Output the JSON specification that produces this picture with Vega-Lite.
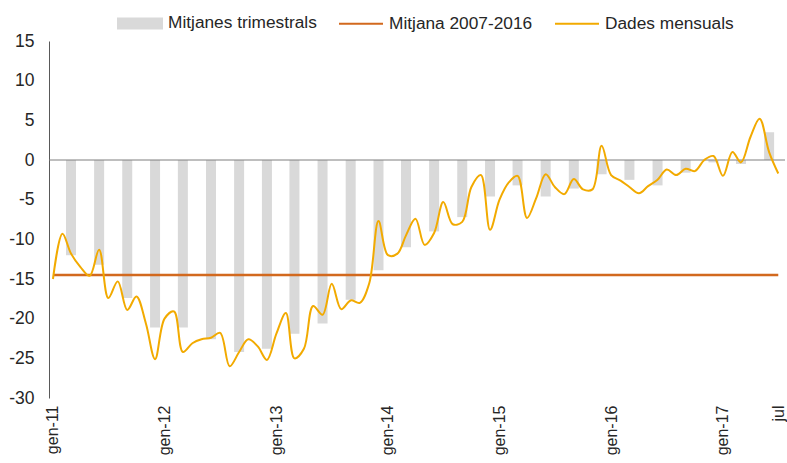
{
  "$schema": "https://vega.github.io/schema/vega-lite/v6.json",
  "width": 736,
  "height": 357,
  "autosize": "none",
  "padding": {"left": 49, "top": 41, "right": 2, "bottom": 65},
  "background": "white",
  "config": {
    "view": {"stroke": null},
    "font": "Liberation Sans",
    "axis": {"labelFont": "Liberation Sans", "labelColor": "#262626", "labelFontSize": 17.5, "grid": false, "ticks": false, "title": null},
    "legend": {"labelFont": "Liberation Sans", "labelFontSize": 17.3, "labelColor": "#262626"}
  },
  "datasets": {
    "mensual": [
      {"mes": "2011-01-01", "valor": -15.0, "mitjana": -14.5},
      {"mes": "2011-02-01", "valor": -9.3, "mitjana": -14.5},
      {"mes": "2011-03-01", "valor": -11.8, "mitjana": -14.5},
      {"mes": "2011-04-01", "valor": -13.5, "mitjana": -14.5},
      {"mes": "2011-05-01", "valor": -14.6, "mitjana": -14.5},
      {"mes": "2011-06-01", "valor": -11.3, "mitjana": -14.5},
      {"mes": "2011-07-01", "valor": -17.4, "mitjana": -14.5},
      {"mes": "2011-08-01", "valor": -15.3, "mitjana": -14.5},
      {"mes": "2011-09-01", "valor": -18.9, "mitjana": -14.5},
      {"mes": "2011-10-01", "valor": -17.2, "mitjana": -14.5},
      {"mes": "2011-11-01", "valor": -20.6, "mitjana": -14.5},
      {"mes": "2011-12-01", "valor": -25.1, "mitjana": -14.5},
      {"mes": "2012-01-01", "valor": -20.0, "mitjana": -14.5},
      {"mes": "2012-02-01", "valor": -19.1, "mitjana": -14.5},
      {"mes": "2012-03-01", "valor": -24.2, "mitjana": -14.5},
      {"mes": "2012-04-01", "valor": -23.1, "mitjana": -14.5},
      {"mes": "2012-05-01", "valor": -22.6, "mitjana": -14.5},
      {"mes": "2012-06-01", "valor": -22.4, "mitjana": -14.5},
      {"mes": "2012-07-01", "valor": -21.8, "mitjana": -14.5},
      {"mes": "2012-08-01", "valor": -26.0, "mitjana": -14.5},
      {"mes": "2012-09-01", "valor": -24.2, "mitjana": -14.5},
      {"mes": "2012-10-01", "valor": -22.6, "mitjana": -14.5},
      {"mes": "2012-11-01", "valor": -23.5, "mitjana": -14.5},
      {"mes": "2012-12-01", "valor": -25.2, "mitjana": -14.5},
      {"mes": "2013-01-01", "valor": -21.9, "mitjana": -14.5},
      {"mes": "2013-02-01", "valor": -19.3, "mitjana": -14.5},
      {"mes": "2013-03-01", "valor": -25.0, "mitjana": -14.5},
      {"mes": "2013-04-01", "valor": -23.8, "mitjana": -14.5},
      {"mes": "2013-05-01", "valor": -18.4, "mitjana": -14.5},
      {"mes": "2013-06-01", "valor": -19.5, "mitjana": -14.5},
      {"mes": "2013-07-01", "valor": -15.6, "mitjana": -14.5},
      {"mes": "2013-08-01", "valor": -18.8, "mitjana": -14.5},
      {"mes": "2013-09-01", "valor": -17.7, "mitjana": -14.5},
      {"mes": "2013-10-01", "valor": -18.0, "mitjana": -14.5},
      {"mes": "2013-11-01", "valor": -15.5, "mitjana": -14.5},
      {"mes": "2013-12-01", "valor": -7.7, "mitjana": -14.5},
      {"mes": "2014-01-01", "valor": -12.0, "mitjana": -14.5},
      {"mes": "2014-02-01", "valor": -11.8, "mitjana": -14.5},
      {"mes": "2014-03-01", "valor": -9.5, "mitjana": -14.5},
      {"mes": "2014-04-01", "valor": -7.4, "mitjana": -14.5},
      {"mes": "2014-05-01", "valor": -10.7, "mitjana": -14.5},
      {"mes": "2014-06-01", "valor": -9.2, "mitjana": -14.5},
      {"mes": "2014-07-01", "valor": -5.3, "mitjana": -14.5},
      {"mes": "2014-08-01", "valor": -8.1, "mitjana": -14.5},
      {"mes": "2014-09-01", "valor": -7.8, "mitjana": -14.5},
      {"mes": "2014-10-01", "valor": -3.4, "mitjana": -14.5},
      {"mes": "2014-11-01", "valor": -1.9, "mitjana": -14.5},
      {"mes": "2014-12-01", "valor": -8.8, "mitjana": -14.5},
      {"mes": "2015-01-01", "valor": -5.0, "mitjana": -14.5},
      {"mes": "2015-02-01", "valor": -2.8, "mitjana": -14.5},
      {"mes": "2015-03-01", "valor": -2.0, "mitjana": -14.5},
      {"mes": "2015-04-01", "valor": -7.3, "mitjana": -14.5},
      {"mes": "2015-05-01", "valor": -4.8, "mitjana": -14.5},
      {"mes": "2015-06-01", "valor": -1.8, "mitjana": -14.5},
      {"mes": "2015-07-01", "valor": -3.4, "mitjana": -14.5},
      {"mes": "2015-08-01", "valor": -4.3, "mitjana": -14.5},
      {"mes": "2015-09-01", "valor": -2.4, "mitjana": -14.5},
      {"mes": "2015-10-01", "valor": -3.7, "mitjana": -14.5},
      {"mes": "2015-11-01", "valor": -3.7, "mitjana": -14.5},
      {"mes": "2015-12-01", "valor": 1.8, "mitjana": -14.5},
      {"mes": "2016-01-01", "valor": -1.9, "mitjana": -14.5},
      {"mes": "2016-02-01", "valor": -2.6, "mitjana": -14.5},
      {"mes": "2016-03-01", "valor": -3.4, "mitjana": -14.5},
      {"mes": "2016-04-01", "valor": -4.2, "mitjana": -14.5},
      {"mes": "2016-05-01", "valor": -3.3, "mitjana": -14.5},
      {"mes": "2016-06-01", "valor": -2.5, "mitjana": -14.5},
      {"mes": "2016-07-01", "valor": -1.2, "mitjana": -14.5},
      {"mes": "2016-08-01", "valor": -1.9, "mitjana": -14.5},
      {"mes": "2016-09-01", "valor": -1.1, "mitjana": -14.5},
      {"mes": "2016-10-01", "valor": -1.4, "mitjana": -14.5},
      {"mes": "2016-11-01", "valor": 0.0, "mitjana": -14.5},
      {"mes": "2016-12-01", "valor": 0.5, "mitjana": -14.5},
      {"mes": "2017-01-01", "valor": -2.0, "mitjana": -14.5},
      {"mes": "2017-02-01", "valor": 1.0, "mitjana": -14.5},
      {"mes": "2017-03-01", "valor": -0.3, "mitjana": -14.5},
      {"mes": "2017-04-01", "valor": 2.9, "mitjana": -14.5},
      {"mes": "2017-05-01", "valor": 5.2, "mitjana": -14.5},
      {"mes": "2017-06-01", "valor": 1.0, "mitjana": -14.5},
      {"mes": "2017-07-01", "valor": -1.7, "mitjana": -14.5}
    ],
    "trimestral": [
      {"mes": "2011-03-01", "valor": -12.0},
      {"mes": "2011-06-01", "valor": -13.2},
      {"mes": "2011-09-01", "valor": -17.4},
      {"mes": "2011-12-01", "valor": -21.1},
      {"mes": "2012-03-01", "valor": -21.1},
      {"mes": "2012-06-01", "valor": -22.6},
      {"mes": "2012-09-01", "valor": -24.2},
      {"mes": "2012-12-01", "valor": -23.8},
      {"mes": "2013-03-01", "valor": -21.9},
      {"mes": "2013-06-01", "valor": -20.6},
      {"mes": "2013-09-01", "valor": -17.6},
      {"mes": "2013-12-01", "valor": -13.9},
      {"mes": "2014-03-01", "valor": -11.0},
      {"mes": "2014-06-01", "valor": -9.0},
      {"mes": "2014-09-01", "valor": -7.2},
      {"mes": "2014-12-01", "valor": -4.6},
      {"mes": "2015-03-01", "valor": -3.2},
      {"mes": "2015-06-01", "valor": -4.6},
      {"mes": "2015-09-01", "valor": -3.6},
      {"mes": "2015-12-01", "valor": -1.8},
      {"mes": "2016-03-01", "valor": -2.5},
      {"mes": "2016-06-01", "valor": -3.2},
      {"mes": "2016-09-01", "valor": -1.6},
      {"mes": "2016-12-01", "valor": -0.3},
      {"mes": "2017-03-01", "valor": -0.5},
      {"mes": "2017-06-01", "valor": 3.5}
    ]
  },
  "encoding": {
    "x": {
      "field": "mes",
      "type": "temporal",
      "scale": {
        "type": "utc",
        "padding": 0,
        "domain": [
          {"year": 2010, "month": 12, "date": 19, "utc": true},
          {"year": 2017, "month": 7, "date": 23, "utc": true}
        ]
      },
      "axis": {
        "domain": false,
        "values": [
          {"year": 2011, "month": 1, "date": 1, "utc": true},
          {"year": 2012, "month": 1, "date": 1, "utc": true},
          {"year": 2013, "month": 1, "date": 1, "utc": true},
          {"year": 2014, "month": 1, "date": 1, "utc": true},
          {"year": 2015, "month": 1, "date": 1, "utc": true},
          {"year": 2016, "month": 1, "date": 1, "utc": true},
          {"year": 2017, "month": 1, "date": 1, "utc": true},
          {"year": 2017, "month": 7, "date": 1, "utc": true}
        ],
        "labelExpr": "utcFormat(datum.value, '%m') == '07' ? 'jul' : 'gen-' + utcFormat(datum.value, '%y')",
        "labelAngle": -90,
        "labelAlign": "right",
        "labelBaseline": "middle",
        "labelPadding": 7,
        "labelFontSize": 16,
        "labelOverlap": false,
        "labelBound": false,
        "labelFlush": false
      }
    },
    "y": {
      "field": "valor",
      "type": "quantitative",
      "scale": {"domain": [-30, 15], "nice": false, "zero": false},
      "axis": {
        "values": [-30, -25, -20, -15, -10, -5, 0, 5, 10, 15],
        "labelExpr": "'' + datum.value",
        "domain": true,
        "domainColor": "#595959",
        "domainWidth": 1,
        "labelPadding": 15
      }
    },
    "color": {
      "scale": {
        "domain": ["Mitjanes trimestrals", "Mitjana 2007-2016", "Dades mensuals"],
        "range": ["#D9D9D9", "#D2691E", "#F2AA00"]
      },
      "legend": {
        "title": null,
        "orient": "none",
        "legendX": 68,
        "legendY": -41,
        "direction": "horizontal",
        "columnPadding": 18,
        "labelOffset": 5,
        "symbolSize": 1936,
        "symbolStrokeWidth": 2,
        "encode": {
          "symbols": {
            "update": {
              "shape": {"signal": "datum.value === 'Mitjanes trimestrals' ? 'M-1,-0.23H1V0.23H-1Z' : 'M-1,0H1'"},
              "fill": {"signal": "datum.value === 'Mitjanes trimestrals' ? '#D9D9D9' : 'transparent'"},
              "stroke": {"signal": "datum.value === 'Mitjanes trimestrals' ? 'transparent' : (datum.value === 'Mitjana 2007-2016' ? '#D2691E' : '#F2AA00')"},
              "strokeWidth": {"value": 2},
              "opacity": {"value": 1}
            }
          }
        }
      }
    }
  },
  "layer": [
    {
      "data": {"name": "trimestral"},
      "mark": {"type": "bar", "width": 10},
      "encoding": {
        "color": {"datum": "Mitjanes trimestrals"},
        "y2": {"datum": 0}
      }
    },
    {
      "data": {"values": [{"zero": 0}]},
      "mark": {"type": "rule", "color": "#7F7F7F", "strokeWidth": 1},
      "encoding": {
        "x": null,
        "y": {"field": "zero", "type": "quantitative"},
        "color": null
      }
    },
    {
      "data": {"name": "mensual"},
      "mark": {"type": "line", "strokeWidth": 2.5},
      "encoding": {
        "y": {"field": "mitjana", "type": "quantitative"},
        "color": {"datum": "Mitjana 2007-2016"}
      }
    },
    {
      "data": {"name": "mensual"},
      "mark": {"type": "line", "strokeWidth": 2, "interpolate": "catmull-rom"},
      "encoding": {
        "color": {"datum": "Dades mensuals"}
      }
    }
  ]
}
